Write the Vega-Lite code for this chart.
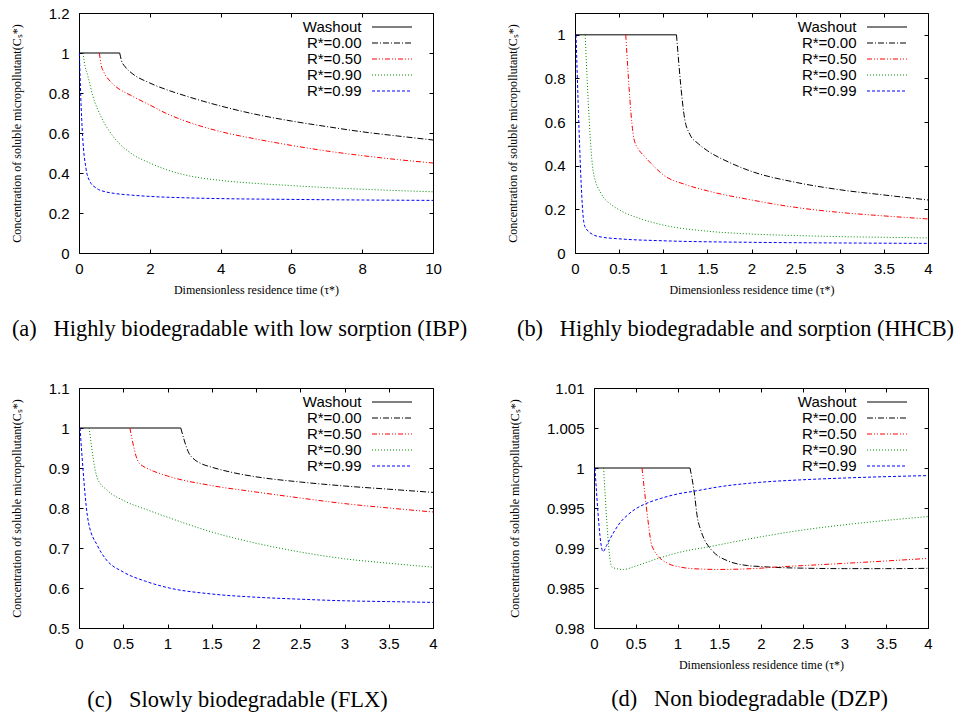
{
"$schema": "https://vega.github.io/schema/vega-lite/v6.json",
"background": "white",
"padding": {"left": 10, "top": 6, "right": 0, "bottom": 0},
"bounds": "flush",
"spacing": 375,
"resolve": {"scale": {"color": "independent"}},
"datasets": {
"a": [
{"t":0,"c":1,"s":"Washout"},{"t":1.15,"c":1,"s":"Washout"},
{"t":1.15,"c":1,"s":"R*=0.00"},{"t":1.2,"c":0.962,"s":"R*=0.00"},{"t":1.3,"c":0.932,"s":"R*=0.00"},{"t":1.5,"c":0.898,"s":"R*=0.00"},{"t":2,"c":0.85,"s":"R*=0.00"},{"t":2.5,"c":0.815,"s":"R*=0.00"},{"t":3,"c":0.786,"s":"R*=0.00"},{"t":4,"c":0.735,"s":"R*=0.00"},{"t":5,"c":0.693,"s":"R*=0.00"},{"t":6,"c":0.66,"s":"R*=0.00"},{"t":7,"c":0.632,"s":"R*=0.00"},{"t":8,"c":0.606,"s":"R*=0.00"},{"t":9,"c":0.585,"s":"R*=0.00"},{"t":10,"c":0.565,"s":"R*=0.00"},
{"t":0.575,"c":1,"s":"R*=0.50"},{"t":0.62,"c":0.945,"s":"R*=0.50"},{"t":0.7,"c":0.905,"s":"R*=0.50"},{"t":0.85,"c":0.865,"s":"R*=0.50"},{"t":1,"c":0.838,"s":"R*=0.50"},{"t":1.5,"c":0.785,"s":"R*=0.50"},{"t":2,"c":0.74,"s":"R*=0.50"},{"t":2.5,"c":0.695,"s":"R*=0.50"},{"t":3,"c":0.66,"s":"R*=0.50"},{"t":4,"c":0.607,"s":"R*=0.50"},{"t":5,"c":0.57,"s":"R*=0.50"},{"t":6,"c":0.538,"s":"R*=0.50"},{"t":7,"c":0.51,"s":"R*=0.50"},{"t":8,"c":0.487,"s":"R*=0.50"},{"t":9,"c":0.467,"s":"R*=0.50"},{"t":10,"c":0.45,"s":"R*=0.50"},
{"t":0.115,"c":1,"s":"R*=0.90"},{"t":0.15,"c":0.955,"s":"R*=0.90"},{"t":0.25,"c":0.885,"s":"R*=0.90"},{"t":0.4,"c":0.78,"s":"R*=0.90"},{"t":0.6,"c":0.69,"s":"R*=0.90"},{"t":0.8,"c":0.625,"s":"R*=0.90"},{"t":1,"c":0.575,"s":"R*=0.90"},{"t":1.5,"c":0.495,"s":"R*=0.90"},{"t":2,"c":0.45,"s":"R*=0.90"},{"t":2.5,"c":0.415,"s":"R*=0.90"},{"t":3,"c":0.39,"s":"R*=0.90"},{"t":4,"c":0.363,"s":"R*=0.90"},{"t":5,"c":0.348,"s":"R*=0.90"},{"t":6,"c":0.337,"s":"R*=0.90"},{"t":7,"c":0.327,"s":"R*=0.90"},{"t":8,"c":0.319,"s":"R*=0.90"},{"t":9,"c":0.312,"s":"R*=0.90"},{"t":10,"c":0.306,"s":"R*=0.90"},
{"t":0.0115,"c":1,"s":"R*=0.99"},{"t":0.05,"c":0.78,"s":"R*=0.99"},{"t":0.1,"c":0.59,"s":"R*=0.99"},{"t":0.2,"c":0.42,"s":"R*=0.99"},{"t":0.3,"c":0.36,"s":"R*=0.99"},{"t":0.5,"c":0.323,"s":"R*=0.99"},{"t":0.75,"c":0.306,"s":"R*=0.99"},{"t":1,"c":0.298,"s":"R*=0.99"},{"t":1.5,"c":0.289,"s":"R*=0.99"},{"t":2,"c":0.283,"s":"R*=0.99"},{"t":3,"c":0.276,"s":"R*=0.99"},{"t":4,"c":0.272,"s":"R*=0.99"},{"t":6,"c":0.268,"s":"R*=0.99"},{"t":8,"c":0.265,"s":"R*=0.99"},{"t":10,"c":0.263,"s":"R*=0.99"}
],
"b": [
{"t":0,"c":1,"s":"Washout"},{"t":1.15,"c":1,"s":"Washout"},
{"t":1.15,"c":1,"s":"R*=0.00"},{"t":1.245,"c":0.61,"s":"R*=0.00"},{"t":1.3,"c":0.545,"s":"R*=0.00"},{"t":1.4,"c":0.5,"s":"R*=0.00"},{"t":1.5,"c":0.469,"s":"R*=0.00"},{"t":1.75,"c":0.415,"s":"R*=0.00"},{"t":2,"c":0.374,"s":"R*=0.00"},{"t":2.5,"c":0.324,"s":"R*=0.00"},{"t":3,"c":0.29,"s":"R*=0.00"},{"t":3.5,"c":0.266,"s":"R*=0.00"},{"t":4,"c":0.243,"s":"R*=0.00"},
{"t":0.575,"c":1,"s":"R*=0.50"},{"t":0.669,"c":0.522,"s":"R*=0.50"},{"t":0.72,"c":0.475,"s":"R*=0.50"},{"t":0.78,"c":0.446,"s":"R*=0.50"},{"t":0.9,"c":0.395,"s":"R*=0.50"},{"t":1,"c":0.358,"s":"R*=0.50"},{"t":1.25,"c":0.314,"s":"R*=0.50"},{"t":1.5,"c":0.285,"s":"R*=0.50"},{"t":2,"c":0.243,"s":"R*=0.50"},{"t":2.5,"c":0.209,"s":"R*=0.50"},{"t":3,"c":0.186,"s":"R*=0.50"},{"t":3.5,"c":0.17,"s":"R*=0.50"},{"t":4,"c":0.156,"s":"R*=0.50"},
{"t":0.115,"c":1,"s":"R*=0.90"},{"t":0.208,"c":0.37,"s":"R*=0.90"},{"t":0.3,"c":0.27,"s":"R*=0.90"},{"t":0.4,"c":0.225,"s":"R*=0.90"},{"t":0.5,"c":0.198,"s":"R*=0.90"},{"t":0.75,"c":0.156,"s":"R*=0.90"},{"t":1,"c":0.128,"s":"R*=0.90"},{"t":1.5,"c":0.1,"s":"R*=0.90"},{"t":2,"c":0.087,"s":"R*=0.90"},{"t":2.5,"c":0.08,"s":"R*=0.90"},{"t":3,"c":0.075,"s":"R*=0.90"},{"t":3.5,"c":0.072,"s":"R*=0.90"},{"t":4,"c":0.069,"s":"R*=0.90"},
{"t":0.0115,"c":1,"s":"R*=0.99"},{"t":0.106,"c":0.128,"s":"R*=0.99"},{"t":0.15,"c":0.1,"s":"R*=0.99"},{"t":0.2,"c":0.085,"s":"R*=0.99"},{"t":0.3,"c":0.073,"s":"R*=0.99"},{"t":0.5,"c":0.065,"s":"R*=0.99"},{"t":1,"c":0.056,"s":"R*=0.99"},{"t":2,"c":0.049,"s":"R*=0.99"},{"t":3,"c":0.046,"s":"R*=0.99"},{"t":4,"c":0.044,"s":"R*=0.99"}
],
"c": [
{"t":0,"c":1,"s":"Washout"},{"t":1.15,"c":1,"s":"Washout"},
{"t":1.15,"c":1,"s":"R*=0.00"},{"t":1.245,"c":0.936,"s":"R*=0.00"},{"t":1.3,"c":0.922,"s":"R*=0.00"},{"t":1.38,"c":0.911,"s":"R*=0.00"},{"t":1.5,"c":0.902,"s":"R*=0.00"},{"t":1.75,"c":0.888,"s":"R*=0.00"},{"t":2,"c":0.878,"s":"R*=0.00"},{"t":2.5,"c":0.865,"s":"R*=0.00"},{"t":3,"c":0.855,"s":"R*=0.00"},{"t":3.5,"c":0.847,"s":"R*=0.00"},{"t":4,"c":0.839,"s":"R*=0.00"},
{"t":0.575,"c":1,"s":"R*=0.50"},{"t":0.668,"c":0.916,"s":"R*=0.50"},{"t":0.72,"c":0.905,"s":"R*=0.50"},{"t":0.78,"c":0.898,"s":"R*=0.50"},{"t":1,"c":0.88,"s":"R*=0.50"},{"t":1.5,"c":0.856,"s":"R*=0.50"},{"t":2,"c":0.84,"s":"R*=0.50"},{"t":2.5,"c":0.825,"s":"R*=0.50"},{"t":3,"c":0.811,"s":"R*=0.50"},{"t":3.5,"c":0.8,"s":"R*=0.50"},{"t":4,"c":0.79,"s":"R*=0.50"},
{"t":0.115,"c":1,"s":"R*=0.90"},{"t":0.208,"c":0.874,"s":"R*=0.90"},{"t":0.32,"c":0.844,"s":"R*=0.90"},{"t":0.5,"c":0.819,"s":"R*=0.90"},{"t":0.75,"c":0.797,"s":"R*=0.90"},{"t":1,"c":0.777,"s":"R*=0.90"},{"t":1.5,"c":0.74,"s":"R*=0.90"},{"t":2,"c":0.712,"s":"R*=0.90"},{"t":2.5,"c":0.69,"s":"R*=0.90"},{"t":3,"c":0.673,"s":"R*=0.90"},{"t":3.5,"c":0.662,"s":"R*=0.90"},{"t":4,"c":0.652,"s":"R*=0.90"},
{"t":0.0115,"c":1,"s":"R*=0.99"},{"t":0.106,"c":0.765,"s":"R*=0.99"},{"t":0.208,"c":0.706,"s":"R*=0.99"},{"t":0.3,"c":0.673,"s":"R*=0.99"},{"t":0.5,"c":0.64,"s":"R*=0.99"},{"t":0.75,"c":0.617,"s":"R*=0.99"},{"t":1,"c":0.601,"s":"R*=0.99"},{"t":1.5,"c":0.585,"s":"R*=0.99"},{"t":2,"c":0.577,"s":"R*=0.99"},{"t":2.5,"c":0.572,"s":"R*=0.99"},{"t":3,"c":0.568,"s":"R*=0.99"},{"t":3.5,"c":0.566,"s":"R*=0.99"},{"t":4,"c":0.564,"s":"R*=0.99"}
],
"d": [
{"t":0,"c":1,"s":"Washout"},{"t":1.15,"c":1,"s":"Washout"},
{"t":1.15,"c":1,"s":"R*=0.00"},{"t":1.2,"c":0.997,"s":"R*=0.00"},{"t":1.24,"c":0.9937,"s":"R*=0.00"},{"t":1.27,"c":0.9925,"s":"R*=0.00"},{"t":1.32,"c":0.9911,"s":"R*=0.00"},{"t":1.38,"c":0.9901,"s":"R*=0.00"},{"t":1.45,"c":0.9893,"s":"R*=0.00"},{"t":1.6,"c":0.9884,"s":"R*=0.00"},{"t":1.84,"c":0.9878,"s":"R*=0.00"},{"t":2,"c":0.98768,"s":"R*=0.00"},{"t":2.14,"c":0.98759,"s":"R*=0.00"},{"t":2.5,"c":0.98748,"s":"R*=0.00"},{"t":3,"c":0.98742,"s":"R*=0.00"},{"t":3.5,"c":0.98742,"s":"R*=0.00"},{"t":4,"c":0.98746,"s":"R*=0.00"},
{"t":0.575,"c":1,"s":"R*=0.50"},{"t":0.64,"c":0.994,"s":"R*=0.50"},{"t":0.683,"c":0.9907,"s":"R*=0.50"},{"t":0.72,"c":0.9897,"s":"R*=0.50"},{"t":0.765,"c":0.989,"s":"R*=0.50"},{"t":0.88,"c":0.9881,"s":"R*=0.50"},{"t":1.04,"c":0.9876,"s":"R*=0.50"},{"t":1.25,"c":0.98738,"s":"R*=0.50"},{"t":1.5,"c":0.98732,"s":"R*=0.50"},{"t":2,"c":0.98748,"s":"R*=0.50"},{"t":2.14,"c":0.98759,"s":"R*=0.50"},{"t":2.5,"c":0.9878,"s":"R*=0.50"},{"t":3,"c":0.98808,"s":"R*=0.50"},{"t":3.5,"c":0.98838,"s":"R*=0.50"},{"t":4,"c":0.9887,"s":"R*=0.50"},
{"t":0.115,"c":1,"s":"R*=0.90"},{"t":0.215,"c":0.9876,"s":"R*=0.90"},{"t":0.35,"c":0.98731,"s":"R*=0.90"},{"t":0.5,"c":0.98775,"s":"R*=0.90"},{"t":0.77,"c":0.9887,"s":"R*=0.90"},{"t":1,"c":0.9894,"s":"R*=0.90"},{"t":1.4,"c":0.9902,"s":"R*=0.90"},{"t":2,"c":0.9914,"s":"R*=0.90"},{"t":2.5,"c":0.99225,"s":"R*=0.90"},{"t":3,"c":0.9929,"s":"R*=0.90"},{"t":3.5,"c":0.99345,"s":"R*=0.90"},{"t":4,"c":0.99393,"s":"R*=0.90"},
{"t":0.0115,"c":1,"s":"R*=0.99"},{"t":0.108,"c":0.98955,"s":"R*=0.99"},{"t":0.15,"c":0.9903,"s":"R*=0.99"},{"t":0.2,"c":0.9913,"s":"R*=0.99"},{"t":0.25,"c":0.9922,"s":"R*=0.99"},{"t":0.3,"c":0.993,"s":"R*=0.99"},{"t":0.4,"c":0.9941,"s":"R*=0.99"},{"t":0.5,"c":0.9949,"s":"R*=0.99"},{"t":0.6,"c":0.99545,"s":"R*=0.99"},{"t":0.8,"c":0.9962,"s":"R*=0.99"},{"t":1,"c":0.99675,"s":"R*=0.99"},{"t":1.2,"c":0.9971,"s":"R*=0.99"},{"t":1.5,"c":0.99765,"s":"R*=0.99"},{"t":2,"c":0.99822,"s":"R*=0.99"},{"t":2.5,"c":0.99853,"s":"R*=0.99"},{"t":3,"c":0.99875,"s":"R*=0.99"},{"t":3.5,"c":0.99892,"s":"R*=0.99"},{"t":4,"c":0.99905,"s":"R*=0.99"}
]
},
"vconcat": [
{"hconcat": [
{"width": 354, "height": 240, "data": {"name": "a"},
 "title": {"text": "(a)\u2002\u00a0Highly biodegradable with low sorption (IBP)", "dx": -16.5, "offset": 23},
 "layer": [
  {"encoding": {
    "x": {"field": "t", "type": "quantitative", "scale": {"domain": [0, 10], "nice": false}, "axis": {"values": [0,2,4,6,8,10], "format": "~r", "title": "Dimensionless residence time (τ*)"}},
    "y": {"field": "c", "type": "quantitative", "scale": {"domain": [0, 1.2], "nice": false, "zero": false}, "axis": {"values": [0,0.2,0.4,0.6,0.8,1,1.2], "format": "~r", "title": "Concentration of soluble micropollutant(Cₛ*)"}},
    "color": {"field": "s", "type": "nominal", "scale": {"domain": ["Washout","R*=0.00","R*=0.50","R*=0.90","R*=0.99"], "range": ["#000000","#000000","#ff0000","#008b00","#0000ff"]}, "legend": {"title": null, "orient": "none", "legendX": 305.5, "legendY": 6.5, "encode": {"symbols": {"update": {"strokeDash": {"signal": "datum.value === 'R*=0.00' ? [6,2,1,2] : datum.value === 'R*=0.50' ? [5,2,1,2,1,2] : datum.value === 'R*=0.90' ? [1,2] : datum.value === 'R*=0.99' ? [3,2] : [1,0]"}}}}}}
   },
   "layer": [
    {"transform": [{"filter": "datum.s === 'Washout'"}], "mark": {"type": "line", "strokeWidth": 1, "interpolate": "monotone"}},
    {"transform": [{"filter": "datum.s === 'R*=0.00'"}], "mark": {"type": "line", "strokeWidth": 1, "interpolate": "monotone", "strokeDash": [6,2,1,2]}},
    {"transform": [{"filter": "datum.s === 'R*=0.50'"}], "mark": {"type": "line", "strokeWidth": 1, "interpolate": "monotone", "strokeDash": [5,2,1,2,1,2]}},
    {"transform": [{"filter": "datum.s === 'R*=0.90'"}], "mark": {"type": "line", "strokeWidth": 1, "interpolate": "monotone", "strokeDash": [1,2]}},
    {"transform": [{"filter": "datum.s === 'R*=0.99'"}], "mark": {"type": "line", "strokeWidth": 1, "interpolate": "monotone", "strokeDash": [3,2]}}
   ]},
  {"mark": {"type": "point", "opacity": 0},
   "encoding": {
    "x": {"field": "t", "type": "quantitative", "axis": {"orient": "top", "values": [0,2,4,6,8,10], "labels": false, "title": null}},
    "y": {"field": "c", "type": "quantitative", "axis": {"orient": "right", "values": [0,0.2,0.4,0.6,0.8,1,1.2], "labels": false, "title": null}}
   }}
 ],
 "resolve": {"axis": {"x": "independent", "y": "independent"}}
},
{"width": 353, "height": 240, "data": {"name": "b"},
 "title": {"text": "(b)\u2002\u00a0Highly biodegradable and sorption (HHCB)", "dx": -16, "offset": 23},
 "layer": [
  {"encoding": {
    "x": {"field": "t", "type": "quantitative", "scale": {"domain": [0, 4], "nice": false}, "axis": {"values": [0,0.5,1,1.5,2,2.5,3,3.5,4], "format": "~r", "title": "Dimensionless residence time (τ*)"}},
    "y": {"field": "c", "type": "quantitative", "scale": {"domain": [0, 1.1], "nice": false, "zero": false}, "axis": {"values": [0,0.2,0.4,0.6,0.8,1], "format": "~r", "title": "Concentration of soluble micropollutant(Cₛ*)"}},
    "color": {"field": "s", "type": "nominal", "scale": {"domain": ["Washout","R*=0.00","R*=0.50","R*=0.90","R*=0.99"], "range": ["#000000","#000000","#ff0000","#008b00","#0000ff"]}, "legend": {"title": null, "orient": "none", "legendX": 304.5, "legendY": 6.5, "encode": {"symbols": {"update": {"strokeDash": {"signal": "datum.value === 'R*=0.00' ? [6,2,1,2] : datum.value === 'R*=0.50' ? [5,2,1,2,1,2] : datum.value === 'R*=0.90' ? [1,2] : datum.value === 'R*=0.99' ? [3,2] : [1,0]"}}}}}}
   },
   "layer": [
    {"transform": [{"filter": "datum.s === 'Washout'"}], "mark": {"type": "line", "strokeWidth": 1, "interpolate": "monotone"}},
    {"transform": [{"filter": "datum.s === 'R*=0.00'"}], "mark": {"type": "line", "strokeWidth": 1, "interpolate": "monotone", "strokeDash": [6,2,1,2]}},
    {"transform": [{"filter": "datum.s === 'R*=0.50'"}], "mark": {"type": "line", "strokeWidth": 1, "interpolate": "monotone", "strokeDash": [5,2,1,2,1,2]}},
    {"transform": [{"filter": "datum.s === 'R*=0.90'"}], "mark": {"type": "line", "strokeWidth": 1, "interpolate": "monotone", "strokeDash": [1,2]}},
    {"transform": [{"filter": "datum.s === 'R*=0.99'"}], "mark": {"type": "line", "strokeWidth": 1, "interpolate": "monotone", "strokeDash": [3,2]}}
   ]},
  {"mark": {"type": "point", "opacity": 0},
   "encoding": {
    "x": {"field": "t", "type": "quantitative", "axis": {"orient": "top", "values": [0,0.5,1,1.5,2,2.5,3,3.5,4], "labels": false, "title": null}},
    "y": {"field": "c", "type": "quantitative", "axis": {"orient": "right", "values": [0,0.2,0.4,0.6,0.8,1], "labels": false, "title": null}}
   }}
 ],
 "resolve": {"axis": {"x": "independent", "y": "independent"}}
}
], "spacing": 142, "bounds": "flush", "resolve": {"scale": {"color": "independent"}}},
{"hconcat": [
{"width": 354, "height": 240, "data": {"name": "c"},
 "title": {"text": "(c)\u2002\u00a0Slowly biodegradable (FLX)", "dx": -18.5, "offset": 38},
 "layer": [
  {"encoding": {
    "x": {"field": "t", "type": "quantitative", "scale": {"domain": [0, 4], "nice": false}, "axis": {"values": [0,0.5,1,1.5,2,2.5,3,3.5,4], "format": "~r", "title": null}},
    "y": {"field": "c", "type": "quantitative", "scale": {"domain": [0.5, 1.1], "nice": false, "zero": false}, "axis": {"values": [0.5,0.6,0.7,0.8,0.9,1,1.1], "format": "~r", "title": "Concentration of soluble micropollutant(Cₛ*)"}},
    "color": {"field": "s", "type": "nominal", "scale": {"domain": ["Washout","R*=0.00","R*=0.50","R*=0.90","R*=0.99"], "range": ["#000000","#000000","#ff0000","#008b00","#0000ff"]}, "legend": {"title": null, "orient": "none", "legendX": 305.5, "legendY": 6.5, "encode": {"symbols": {"update": {"strokeDash": {"signal": "datum.value === 'R*=0.00' ? [6,2,1,2] : datum.value === 'R*=0.50' ? [5,2,1,2,1,2] : datum.value === 'R*=0.90' ? [1,2] : datum.value === 'R*=0.99' ? [3,2] : [1,0]"}}}}}}
   },
   "layer": [
    {"transform": [{"filter": "datum.s === 'Washout'"}], "mark": {"type": "line", "strokeWidth": 1, "interpolate": "monotone"}},
    {"transform": [{"filter": "datum.s === 'R*=0.00'"}], "mark": {"type": "line", "strokeWidth": 1, "interpolate": "monotone", "strokeDash": [6,2,1,2]}},
    {"transform": [{"filter": "datum.s === 'R*=0.50'"}], "mark": {"type": "line", "strokeWidth": 1, "interpolate": "monotone", "strokeDash": [5,2,1,2,1,2]}},
    {"transform": [{"filter": "datum.s === 'R*=0.90'"}], "mark": {"type": "line", "strokeWidth": 1, "interpolate": "monotone", "strokeDash": [1,2]}},
    {"transform": [{"filter": "datum.s === 'R*=0.99'"}], "mark": {"type": "line", "strokeWidth": 1, "interpolate": "monotone", "strokeDash": [3,2]}}
   ]},
  {"mark": {"type": "point", "opacity": 0},
   "encoding": {
    "x": {"field": "t", "type": "quantitative", "axis": {"orient": "top", "values": [0,0.5,1,1.5,2,2.5,3,3.5,4], "labels": false, "title": null}},
    "y": {"field": "c", "type": "quantitative", "axis": {"orient": "right", "values": [0.5,0.6,0.7,0.8,0.9,1,1.1], "labels": false, "title": null}}
   }}
 ],
 "resolve": {"axis": {"x": "independent", "y": "independent"}}
},
{"width": 334, "height": 240, "data": {"name": "d"},
 "title": {"text": "(d)\u2002\u00a0Non biodegradable (DZP)", "dx": -11.5, "offset": 18},
 "layer": [
  {"encoding": {
    "x": {"field": "t", "type": "quantitative", "scale": {"domain": [0, 4], "nice": false}, "axis": {"values": [0,0.5,1,1.5,2,2.5,3,3.5,4], "format": "~r", "title": "Dimensionless residence time (τ*)"}},
    "y": {"field": "c", "type": "quantitative", "scale": {"domain": [0.98, 1.01], "nice": false, "zero": false}, "axis": {"values": [0.98,0.985,0.99,0.995,1,1.005,1.01], "format": "~r", "title": "Concentration of soluble micropollutant(Cₛ*)"}},
    "color": {"field": "s", "type": "nominal", "scale": {"domain": ["Washout","R*=0.00","R*=0.50","R*=0.90","R*=0.99"], "range": ["#000000","#000000","#ff0000","#008b00","#0000ff"]}, "legend": {"title": null, "orient": "none", "legendX": 285.5, "legendY": 6.5, "encode": {"symbols": {"update": {"strokeDash": {"signal": "datum.value === 'R*=0.00' ? [6,2,1,2] : datum.value === 'R*=0.50' ? [5,2,1,2,1,2] : datum.value === 'R*=0.90' ? [1,2] : datum.value === 'R*=0.99' ? [3,2] : [1,0]"}}}}}}
   },
   "layer": [
    {"transform": [{"filter": "datum.s === 'Washout'"}], "mark": {"type": "line", "strokeWidth": 1, "interpolate": "monotone"}},
    {"transform": [{"filter": "datum.s === 'R*=0.00'"}], "mark": {"type": "line", "strokeWidth": 1, "interpolate": "monotone", "strokeDash": [6,2,1,2]}},
    {"transform": [{"filter": "datum.s === 'R*=0.50'"}], "mark": {"type": "line", "strokeWidth": 1, "interpolate": "monotone", "strokeDash": [5,2,1,2,1,2]}},
    {"transform": [{"filter": "datum.s === 'R*=0.90'"}], "mark": {"type": "line", "strokeWidth": 1, "interpolate": "monotone", "strokeDash": [1,2]}},
    {"transform": [{"filter": "datum.s === 'R*=0.99'"}], "mark": {"type": "line", "strokeWidth": 1, "interpolate": "monotone", "strokeDash": [3,2]}}
   ]},
  {"mark": {"type": "point", "opacity": 0},
   "encoding": {
    "x": {"field": "t", "type": "quantitative", "axis": {"orient": "top", "values": [0,0.5,1,1.5,2,2.5,3,3.5,4], "labels": false, "title": null}},
    "y": {"field": "c", "type": "quantitative", "axis": {"orient": "right", "values": [0.98,0.985,0.99,0.995,1,1.005,1.01], "labels": false, "title": null}}
   }}
 ],
 "resolve": {"axis": {"x": "independent", "y": "independent"}}
}
], "spacing": 161, "bounds": "flush", "resolve": {"scale": {"color": "independent"}}}
],
"config": {
 "view": {"stroke": null},
 "axis": {"domain": true, "domainColor": "black", "domainWidth": 1, "grid": false, "ticks": true, "tickColor": "black", "tickSize": -4, "tickWidth": 1, "labelFont": "Liberation Sans", "labelFontSize": 15, "labelColor": "black", "labelFlush": false, "labelOverlap": false, "titleFont": "Liberation Serif", "titleFontSize": 12, "titleFontWeight": "normal", "titleColor": "black"},
 "axisX": {"labelPadding": 12, "titlePadding": 8},
 "axisY": {"labelPadding": 14, "titlePadding": 25},
 "legend": {"labelFont": "Liberation Sans", "labelFontSize": 15, "labelColor": "black", "labelAlign": "right", "labelOffset": -38, "symbolType": "M-4,0H4", "symbolSize": 100, "symbolStrokeWidth": 1, "rowPadding": -1, "padding": 0},
 "title": {"font": "Liberation Serif", "fontSize": 22.4, "fontWeight": "normal", "color": "black", "orient": "bottom", "anchor": "middle", "frame": "group"}
}
}
